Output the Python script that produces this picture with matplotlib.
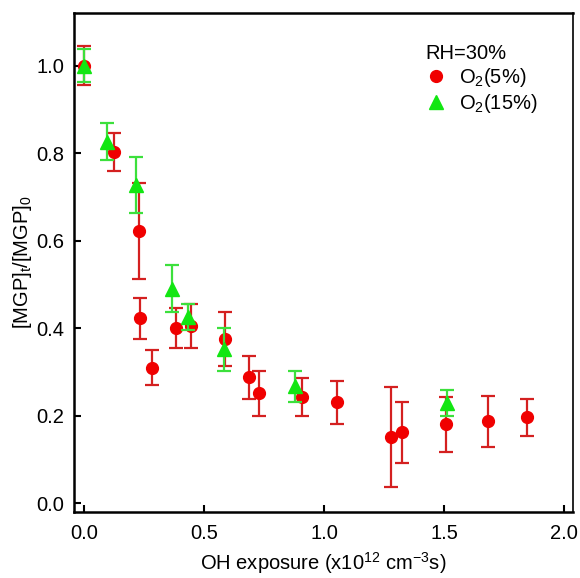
import matplotlib
matplotlib.use("Agg")
import matplotlib.pyplot as plt
from matplotlib.lines import Line2D

plt.rcParams["font.family"] = ["Liberation Sans", "DejaVu Sans"]
plt.rcParams["mathtext.fontset"] = "custom"
plt.rcParams["mathtext.rm"] = "Liberation Sans"
plt.rcParams["mathtext.it"] = "Liberation Sans"
plt.rcParams["font.size"] = 14.5

# -----------------------------
# Data
# -----------------------------
# O2 (5%) - red circles
x_o2_5 = [0.0, 0.125, 0.23, 0.233, 0.283, 0.383, 0.446, 0.5875, 0.6875, 0.729,
          0.908, 1.055, 1.28, 1.325, 1.508, 1.683, 1.846]
y_o2_5 = [1.0, 0.802, 0.622, 0.423, 0.31, 0.40, 0.405, 0.375, 0.288, 0.251,
          0.243, 0.231, 0.151, 0.162, 0.18, 0.187, 0.196]
err_o2_5 = [0.045, 0.043, 0.109, 0.047, 0.041, 0.046, 0.05, 0.061, 0.049, 0.051,
            0.044, 0.049, 0.114, 0.07, 0.063, 0.059, 0.042]

# O2 (15%) - green triangles
x_o2_15 = [0.0, 0.097, 0.217, 0.367, 0.432, 0.585, 0.877, 1.513]
y_o2_15 = [1.0, 0.826, 0.727, 0.49, 0.425, 0.352, 0.267, 0.229]
err_o2_15 = [0.037, 0.042, 0.064, 0.054, 0.03, 0.049, 0.036, 0.029]

red = "#f00000"
red_err = "#d42020"
green = "#12e612"
green_err = "#3ce03c"

fig = plt.figure(figsize=(5.8, 5.78), dpi=100)
ax = fig.add_axes([0.1276, 0.1142, 0.8604, 0.8633])

ax.errorbar(x_o2_5, y_o2_5, yerr=err_o2_5, fmt='o', color=red, ecolor=red_err,
            markersize=8.5, elinewidth=1.6, capsize=5, capthick=1.6, zorder=3)
ax.errorbar(x_o2_15, y_o2_15, yerr=err_o2_15, fmt='^', color=green, ecolor=green_err,
            markersize=9.5, elinewidth=1.6, capsize=5, capthick=1.6, zorder=4)

ax.set_xlim(-0.042, 2.0375)
ax.set_ylim(-0.02, 1.12)
ax.set_xticks([0.0, 0.5, 1.0, 1.5, 2.0])
ax.set_xticklabels(["0.0", "0.5", "1.0", "1.5", "2.0"])
ax.set_yticks([0.0, 0.2, 0.4, 0.6, 0.8, 1.0])
ax.set_yticklabels(["0.0", "0.2", "0.4", "0.6", "0.8", "1.0"])
ax.tick_params(direction='in', length=5, width=1.5, labelsize=14.5)
ax.tick_params(axis='x', pad=9)
ax.tick_params(axis='y', pad=7)

for side in ['left', 'bottom', 'top']:
    ax.spines[side].set_linewidth(1.8)
ax.spines['right'].set_linewidth(1.2)

ax.set_xlabel("OH exposure (x10$^{12}$ cm$^{-3}$s)", fontsize=14.5, labelpad=5)
ax.set_ylabel("[MGP]$_t$/[MGP]$_0$", fontsize=14.5, labelpad=2)

handles = [
    Line2D([], [], marker='o', linestyle='none', color=red, markersize=8.5),
    Line2D([], [], marker='^', linestyle='none', color=green, markersize=9.5),
]
leg = ax.legend(handles, ["O$_2$(5%)", "O$_2$(15%)"], title="RH=30%",
                loc='upper left', bbox_to_anchor=(0.705, 0.937), frameon=False,
                fontsize=14.5, title_fontsize=14.5, handletextpad=0.65,
                borderpad=0, borderaxespad=0, labelspacing=0.15, handlelength=1.0)
leg._legend_box.align = "left"

fig.savefig("out.png", dpi=100)
